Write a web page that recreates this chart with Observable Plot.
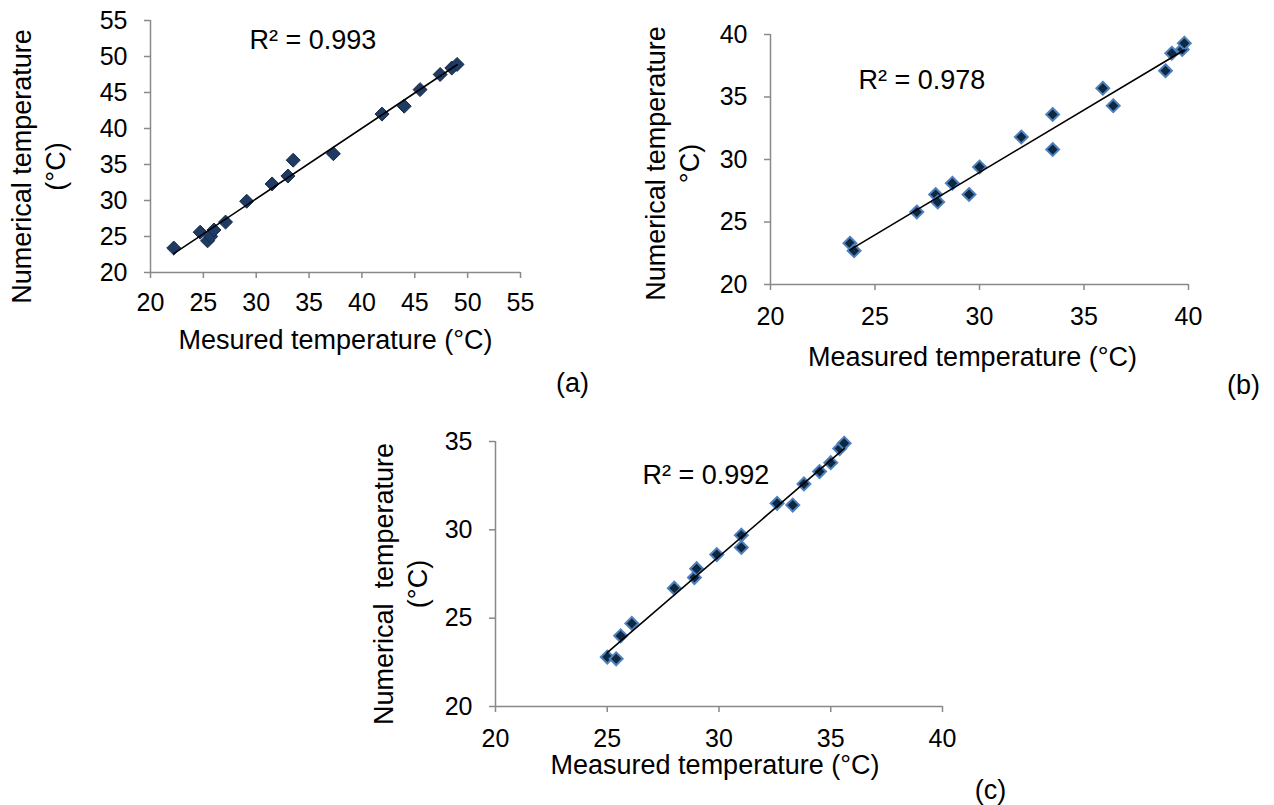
<!DOCTYPE html>
<html><head><meta charset="utf-8">
<script src="https://cdn.jsdelivr.net/npm/d3@7"></script>
<script src="https://cdn.jsdelivr.net/npm/@observablehq/plot@0.6"></script>
<style>
body{margin:0;background:#fff;}
#root{position:relative;width:1274px;height:805px;overflow:hidden;font-family:"Liberation Sans",Arial,sans-serif;}
#root svg{position:absolute;}
</style></head><body><div id="root"></div>
<script>
// Panel (a)
const measuredA = [22.2, 24.7, 25.4, 25.7, 26.0, 27.1, 29.1, 31.5, 33.0, 33.5, 37.3, 41.9, 44.0, 45.5, 47.4, 48.5, 49.0];
const numericalA = [23.4, 25.6, 24.4, 25.0, 25.9, 27.0, 29.9, 32.3, 33.4, 35.6, 36.5, 42.0, 43.1, 45.4, 47.5, 48.4, 48.9];
const ticksA = [20, 25, 30, 35, 40, 45, 50, 55];
// Panel (b)
const measuredB = [23.8, 24.0, 27.0, 27.9, 28.0, 28.7, 29.5, 30.0, 32.0, 33.5, 33.5, 35.9, 36.4, 38.9, 39.2, 39.7, 39.8];
const numericalB = [23.3, 22.7, 25.8, 27.2, 26.6, 28.1, 27.2, 29.4, 31.8, 33.6, 30.8, 35.7, 34.3, 37.1, 38.5, 38.8, 39.3];
const ticksB = [20, 25, 30, 35, 40];
// Panel (c)
const measuredC = [25.0, 25.4, 25.6, 26.1, 28.0, 28.9, 29.0, 29.9, 31.0, 31.0, 32.6, 33.3, 33.8, 34.5, 35.0, 35.4, 35.6];
const numericalC = [22.8, 22.7, 24.0, 24.7, 26.7, 27.3, 27.8, 28.6, 29.0, 29.7, 31.5, 31.4, 32.6, 33.3, 33.8, 34.6, 34.9];
const ticksCx = [20, 25, 30, 35, 40];
const ticksCy = [20, 25, 30, 35];
// Texts
const r2Labels = ["R² = 0.993", "R² = 0.978", "R² = 0.992"];
const xTitles = ["Mesured temperature (°C)", "Measured temperature (°C)", "Measured temperature (°C)"];
const yTitles = ["Numerical temperature\n(°C)", "Numerical temperature\n°C)", "Numerical  temperature\n(°C)"];
const panelTags = ["(a)", "(b)", "(c)"];

const GRAY = "#898989";
const FONT = "'Liberation Sans', Arial, sans-serif";
const FS = 27;
const root = document.getElementById("root");

function panel(o) {
  const data = o.xs.map((x, i) => ({x, y: o.ys[i]}));
  const txt = {text: d => d, textAnchor: "middle", lineAnchor: "middle", fontSize: FS};
  const svg = Plot.plot({
    width: o.width, height: o.height,
    marginLeft: o.ml, marginRight: o.mr, marginTop: o.mt, marginBottom: o.mb,
    style: {fontFamily: FONT, fontSize: "25px", background: "transparent", overflow: "visible", color: "black"},
    x: {domain: o.xd, axis: null},
    y: {domain: o.yd, axis: null},
    marks: [
      Plot.ruleX([o.xd[0]], {y1: o.yd[0], y2: o.yd[1], stroke: GRAY, strokeWidth: 1.5}),
      Plot.ruleY([o.yd[0]], {x1: o.xd[0], x2: o.xd[1], stroke: GRAY, strokeWidth: 1.5}),
      Plot.axisX(o.xt, {tickSize: 6, tickPadding: o.xpad, stroke: GRAY, strokeWidth: 1.5, fontSize: 25, label: null}),
      Plot.axisY(o.yt, {tickSize: 6, tickPadding: 17, stroke: GRAY, strokeWidth: 1.5, fontSize: 25, label: null}),
      Plot.dot(data, {x: "x", y: "y", symbol: "diamond2", r: o.r, fill: o.fill, stroke: o.stroke, strokeWidth: o.sw}),
      Plot.linearRegressionY(data, {x: "x", y: "y", stroke: "black", strokeWidth: 1.6, ci: 0}),
      Plot.text([o.r2], {...txt, frameAnchor: "top-left", textAnchor: "start", dx: o.r2dx, dy: o.r2dy}),
      Plot.text([o.xTitle], {...txt, frameAnchor: "bottom", dx: o.xtdx, dy: o.xtdy}),
      Plot.text([o.yTitle], {...txt, frameAnchor: "left", rotate: -90, dx: o.ytdx, dy: o.ytdy, lineHeight: 1.25}),
      Plot.text([o.tag], {...txt, frameAnchor: "bottom-right", dx: o.tagdx, dy: o.tagdy})
    ]
  });
  svg.style.left = o.left + "px";
  svg.style.top = o.top + "px";
  root.appendChild(svg);
}

panel({
  xs: measuredA, ys: numericalA, xd: [20, 55], yd: [20, 55], xt: ticksA, yt: ticksA,
  left: 0, top: 0, width: 620, height: 400, ml: 150, mr: 100, mt: 20, mb: 128, xpad: 15,
  r: 6.3, fill: "#1F3B64", stroke: "#15294a", sw: 1,
  r2: r2Labels[0], r2dx: 99, r2dy: 20,
  xTitle: xTitles[0], xtdx: 0, xtdy: 68,
  yTitle: yTitles[0], ytdx: -113, ytdy: 20,
  tag: panelTags[0], tagdx: 52, tagdy: 111
});
panel({
  xs: measuredB, ys: numericalB, xd: [20, 40], yd: [20, 40], xt: ticksB, yt: ticksB,
  left: 620, top: 0, width: 654, height: 400, ml: 150, mr: 86, mt: 34, mb: 116, xpad: 17,
  r: 5.8, fill: "#0E2841", stroke: "#4F81BD", sw: 2,
  r2: r2Labels[1], r2dx: 88, r2dy: 46,
  xTitle: xTitles[1], xtdx: -7, xtdy: 73,
  yTitle: yTitles[1], ytdx: -99, ytdy: 4,
  tag: panelTags[1], tagdx: 55, tagdy: 101
});
panel({
  xs: measuredC, ys: numericalC, xd: [20, 40], yd: [20, 35], xt: ticksCx, yt: ticksCy,
  left: 330, top: 400, width: 700, height: 405, ml: 165, mr: 88, mt: 41, mb: 99, xpad: 17,
  r: 5.8, fill: "#0E2841", stroke: "#4F81BD", sw: 2,
  r2: r2Labels[2], r2dx: 147, r2dy: 34,
  xTitle: xTitles[2], xtdx: -4, xtdy: 59,
  yTitle: yTitles[2], ytdx: -96, ytdy: 10,
  tag: panelTags[2], tagdx: 48, tagdy: 84
});
</script>
</body></html>
